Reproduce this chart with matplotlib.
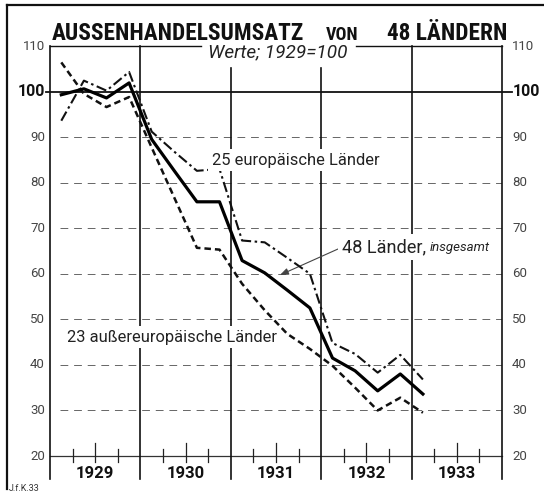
import matplotlib
matplotlib.use('Agg')
import matplotlib.pyplot as plt
from matplotlib import font_manager as fm
from matplotlib.lines import Line2D
import numpy as np

# ---------------- data (quarterly index, 1929 = 100) ----------------
years = ['1929', '1930', '1931', '1932', '1933']
quarters = ['I', 'II', 'III', 'IV'] * 4 + ['I']
total_48 = [99.3, 100.6, 98.6, 101.9,
            89.5, 82.6, 75.8, 75.8,
            62.9, 60.2, 56.4, 52.5,
            41.5, 38.7, 34.3, 38.0,
            33.6]
europe_25 = [93.6, 102.4, 100.2, 104.3,
             91.2, 86.8, 82.6, 83.0,
             67.3, 66.9, 63.5, 60.0,
             44.8, 42.4, 38.3, 42.2,
             36.8]
overseas_23 = [106.4, 99.5, 96.6, 98.8,
               87.7, 76.7, 65.7, 65.3,
               57.8, 52.0, 46.8, 43.5,
               39.8, 35.0, 30.0, 32.8,
               29.5]
y_ticks = [20, 30, 40, 50, 60, 70, 80, 90, 100, 110]
grid_levels = [30, 40, 50, 60, 70, 80, 90]

# ---------------- fonts ----------------
names = {f.name for f in fm.fontManager.ttflist}
def pick(*cands):
    for c in cands:
        if c in names:
            return c
    return 'DejaVu Sans'
LABEL_FONT = pick('Roboto', 'Liberation Sans', 'DejaVu Sans')
NUM_FONT = pick('Roboto', 'DejaVu Sans')

W, H = 544, 494
fig = plt.figure(figsize=(W / 100, H / 100), dpi=100)
fig.patch.set_facecolor('white')

L, R, T, B = 50, 502, 46, 456
ax = fig.add_axes([L / W, 1 - B / H, (R - L) / W, (B - T) / H])
ax.set_xlim(0, 5)
ax.set_ylim(20, 110)
ax.axis('off')

def dx(px):
    return (px - L) / (R - L) * 5
def dy(py):
    return 110 - (py - T) / (B - T) * 90

def ftext(px, py, s, **kw):
    return fig.text(px / W, 1 - py / H, s, **kw)

def fit(t, target):
    for _ in range(2):
        fig.canvas.draw()
        w = t.get_window_extent(fig.canvas.get_renderer()).width
        t.set_fontsize(t.get_fontsize() * target / w)

# choose the title font whose letters, at the reference width, are closest
# to the reference cap height (~16.5 px)
title_cands = ['Liberation Sans Narrow', 'Noto Sans SemiCondensed',
               'Noto Sans Condensed', 'Roboto Condensed', 'Open Sans Condensed',
               'Open Sans SemiCondensed', 'Noto Sans', 'Lato', 'Roboto',
               'Liberation Sans', 'DejaVu Sans']
fig.canvas.draw()
rend = fig.canvas.get_renderer()
best, best_err = 'DejaVu Sans', 1e9
for c in title_cands:
    if c not in names:
        continue
    tt = fig.text(0, 0, 'AUSSENHANDELSUMSATZ', fontsize=20, fontweight='bold', family=c)
    tt2 = fig.text(0, 0, 'H', fontsize=20, fontweight='bold', family=c)
    w = tt.get_window_extent(rend).width
    fs = 20 * 252 / w
    # approximate cap height via bbox of 'H' minus descent-free estimate
    cap = 0.72 * fs * 100 / 72
    err = abs(cap - 16.5)
    tt.remove(); tt2.remove()
    if err < best_err:
        best, best_err = c, err
TITLE_FONT = best

# ---------------- grid & frame ----------------
ax.hlines(grid_levels, dx(60), 5, colors='#666666', lw=0.7,
          linestyles=[(0, (8, 6))], zorder=1)
ax.plot([dx(46), dx(512)], [100, 100], color='#111', lw=1.3, clip_on=False, zorder=2)
ax.plot([0, dx(201)], [110, 110], color='#111', lw=1.0, clip_on=False, zorder=2)
ax.plot([dx(356), 5], [110, 110], color='#111', lw=1.0, clip_on=False, zorder=2)
ax.plot([0, 5], [20, 20], color='#333', lw=0.9, clip_on=False, zorder=2)

ybot = dy(479)
for k in range(6):
    ytop = 110 if k in (0, 1, 4, 5) else dy(68)
    ax.plot([k, k], [ybot, ytop], color='#111', lw=1.2, clip_on=False, zorder=2)

for k in range(5):
    for q in (1, 2, 3):
        top = dy(443) if q == 2 else dy(449)
        ax.plot([k + q * 0.25] * 2, [dy(462), top], color='#222', lw=0.9,
                clip_on=False, zorder=2)
    ax.text(k + 0.5, dy(473), years[k], ha='center', va='center',
            fontsize=12, fontweight='bold', family=NUM_FONT, color='#111')

for v in y_ticks:
    big = (v == 100)
    fs = 11.5 if big else 9.5
    col = '#111' if big else '#444'
    wt = 'bold' if big else 'normal'
    ax.text(dx(45), v, str(v), ha='right', va='center', fontsize=fs,
            family=NUM_FONT, color=col, fontweight=wt, clip_on=False)
    ax.text(dx(512 if not big else 513), v, str(v), ha='left', va='center',
            fontsize=fs, family=NUM_FONT, color=col, fontweight=wt, clip_on=False)

# outer frame
fig.add_artist(Line2D([7 / W, 7 / W], [1 - 5 / H, 1 - 489 / H], color='#111', lw=1.6))
fig.add_artist(Line2D([7 / W, 1.0], [1 - 5 / H, 1 - 5 / H], color='#111', lw=1.6))

# ---------------- data lines ----------------
x = np.arange(len(total_48)) * 0.25 + 0.125
ax.plot(x, overseas_23, color='#111', lw=1.8, ls=(0, (2.6, 1.6)),
        dash_capstyle='butt', zorder=5, clip_on=False)
ax.plot(x, europe_25, color='#111', lw=1.5, ls=(0, (5, 1.7, 1.2, 1.7)),
        dash_capstyle='butt', zorder=5, clip_on=False)
ax.plot(x, total_48, color='#000', lw=2.3, zorder=6, clip_on=False)

# ---------------- texts ----------------
bb = dict(facecolor='white', edgecolor='none', pad=2.5)
t = ftext(212, 160, '25 europäische Länder', ha='left', va='center',
          fontsize=11, family=LABEL_FONT, color='#222', bbox=bb, zorder=3)
fit(t, 168)
t = ftext(67, 337, '23 außereuropäische Länder', ha='left', va='center',
          fontsize=11, family=LABEL_FONT, color='#222', bbox=bb, zorder=3)
fit(t, 210)
t = ftext(342, 247, '48 Länder,', ha='left', va='center',
          fontsize=11, family=LABEL_FONT, color='#222', bbox=bb, zorder=3)
fit(t, 84)
t = ftext(430, 248, 'insgesamt', ha='left', va='center', style='italic',
          fontsize=8, family=LABEL_FONT, color='#222', zorder=3)
fit(t, 60)
ax.annotate('', xy=(dx(280), dy(275)), xytext=(dx(338), dy(249)),
            arrowprops=dict(arrowstyle='-|>,head_length=0.5,head_width=0.2',
                            color='#444', lw=0.8, shrinkA=0, shrinkB=0),
            zorder=4, annotation_clip=False)

t1 = ftext(52, 40, 'AUSSENHANDELSUMSATZ', ha='left', va='baseline',
           fontsize=16, fontweight='bold', family=TITLE_FONT, color='#111')
fit(t1, 252)
fs_title = t1.get_fontsize()
t2 = ftext(507, 40, '48 LÄNDERN', ha='right', va='baseline',
           fontsize=fs_title, fontweight='bold', family=TITLE_FONT, color='#111')
t3 = ftext(342, 40, 'VON', ha='center', va='baseline',
           fontsize=fs_title * 0.78, fontweight='bold', family=TITLE_FONT, color='#111')
t = ftext(208, 52, 'Werte; 1929=100', ha='left', va='center', style='italic',
          fontsize=10, family=LABEL_FONT, color='#222')
fit(t, 139)

ftext(9, 488, 'J.f.K.33', ha='left', va='center', fontsize=6.5,
      family=NUM_FONT, color='#333')

fig.savefig('out.png', dpi=100, facecolor='white')
